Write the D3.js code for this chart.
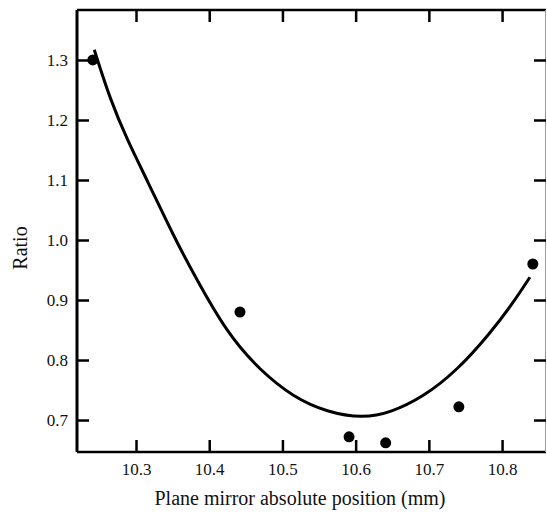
<!DOCTYPE html>
<html>
<head>
<meta charset="utf-8">
<script src="https://cdn.jsdelivr.net/npm/d3@7"></script>
<style>
  body { margin: 0; background: #fff; }
  svg { display: block; }
</style>
</head>
<body>
<svg id="chart" width="547" height="520"></svg>
<script>
// measured points
const posX = [10.241, 10.442, 10.591, 10.641, 10.741, 10.842];
const ratioY = [1.30, 0.88, 0.672, 0.662, 0.722, 0.96];

// fitted curve as drawn
const fitX = [10.243, 10.265, 10.288, 10.315, 10.352, 10.378, 10.424, 10.469, 10.515, 10.561, 10.610, 10.647, 10.692, 10.739, 10.784, 10.815, 10.838];
const fitY = [1.317, 1.233, 1.167, 1.100, 1.005, 0.945, 0.845, 0.783, 0.738, 0.713, 0.703, 0.712, 0.738, 0.783, 0.845, 0.895, 0.938];

const xTicks = [10.3, 10.4, 10.5, 10.6, 10.7, 10.8];
const yTicks = [0.7, 0.8, 0.9, 1.0, 1.1, 1.2, 1.3];

const serif = "'Liberation Serif'";

const margin = {top: 10, left: 77, right: 1, bottom: 68};
const width = 547 - margin.left - margin.right,
      height = 520 - margin.top - margin.bottom;

const svg = d3.select('#chart');
const g = svg.append('g').attr('transform', `translate(${margin.left},${margin.top})`);

const x = d3.scaleLinear().domain([10.2194, 10.860]).range([0, width]);
const y = d3.scaleLinear().domain([0.6467, 1.3833]).range([height, 0]);

// frame
g.append('line').attr('x1', 0).attr('x2', 0).attr('y1', 0).attr('y2', height)
    .attr('stroke', '#000').attr('stroke-width', 3);
g.append('line').attr('x1', 0).attr('x2', width).attr('y1', height).attr('y2', height)
    .attr('stroke', '#000').attr('stroke-width', 2.5);
g.append('line').attr('x1', 0).attr('x2', width).attr('y1', 0).attr('y2', 0)
    .attr('stroke', '#000').attr('stroke-width', 2.5);
g.append('line').attr('x1', width - 0.5).attr('x2', width - 0.5).attr('y1', 0).attr('y2', height)
    .attr('stroke', '#999').attr('stroke-width', 1);

// axes, inward ticks
const tick = 12;
const xAxis = g.append('g').attr('transform', `translate(0,${height})`)
    .call(d3.axisBottom(x).tickValues(xTicks).tickSize(-tick).tickPadding(11).tickFormat(d3.format('.1f')));
const xTop = g.append('g')
    .call(d3.axisTop(x).tickValues(xTicks).tickSize(-tick).tickFormat(''));
const yAxis = g.append('g')
    .call(d3.axisLeft(y).tickValues(yTicks).tickSize(-tick).tickPadding(9).tickFormat(d3.format('.1f')));
const yRight = g.append('g').attr('transform', `translate(${width},0)`)
    .call(d3.axisRight(y).tickValues(yTicks).tickSize(-tick).tickFormat(''));

[xAxis, xTop, yAxis, yRight].forEach(a => {
  a.select('.domain').remove();
  a.selectAll('line').attr('stroke', '#000').attr('stroke-width', 2.5);
  a.selectAll('text')
      .style('font-family', serif)
      .style('font-size', '17px')
      .attr('fill', '#111');
});

// curve
const line = d3.line()
    .x(d => x(d[0]))
    .y(d => y(d[1]))
    .curve(d3.curveBasis);
g.append('path')
    .datum(fitX.map((v, i) => [v, fitY[i]]))
    .attr('d', line)
    .attr('fill', 'none')
    .attr('stroke', '#000')
    .attr('stroke-width', 3);

// points
g.selectAll('circle')
    .data(posX.map((v, i) => [v, ratioY[i]]))
    .enter()
    .append('circle')
    .attr('cx', d => x(d[0]))
    .attr('cy', d => y(d[1]))
    .attr('r', 5.5)
    .attr('fill', '#000');

// labels
svg.append('text')
    .attr('x', 300).attr('y', 505)
    .attr('text-anchor', 'middle')
    .style('font-family', serif)
    .style('font-size', '20px')
    .attr('fill', '#111')
    .text('Plane mirror absolute position (mm)');
svg.append('text')
    .attr('transform', 'translate(27,248) rotate(-90)')
    .attr('text-anchor', 'middle')
    .style('font-family', serif)
    .style('font-size', '20px')
    .attr('fill', '#111')
    .text('Ratio');
</script>
</body>
</html>
